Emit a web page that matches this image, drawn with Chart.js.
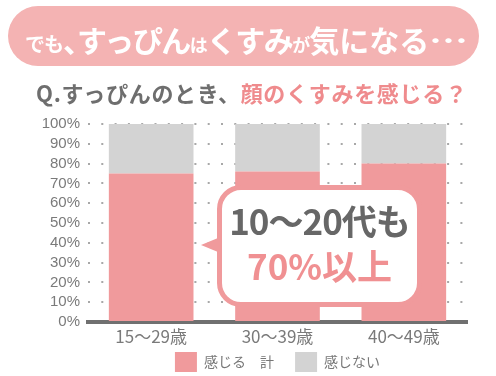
<!DOCTYPE html>
<html lang="ja">

<head>
  <meta charset="UTF-8">
  <title>すっぴんのくすみ</title>
  <script src="https://cdn.jsdelivr.net/npm/chart.js"></script>
  <style>
    body { margin: 0; background: #fff; font-family: "Noto Sans CJK JP", sans-serif; }
    #wrap { position: relative; width: 496px; height: 376px; overflow: hidden; }
    #chart { position: absolute; left: 0; top: 0; }
    .banner {
      position: absolute; left: 8px; top: 6px; width: 471px; height: 60px;
      background: #f4b3b3; border-radius: 30px; color: #fff; font-weight: bold;
      white-space: nowrap; line-height: 66px; padding-left: 17px; box-sizing: border-box;
    }
    .banner .m { font-size: 30px; letter-spacing: -1.5px; }
    .banner .w { font-size: 30px; letter-spacing: 0; }
    .banner .c { font-size: 30px; letter-spacing: -16px; }
    .banner .s { font-size: 18px; letter-spacing: -1px; }
    .banner .d { font-size: 20px; letter-spacing: -1px; }
    .banner .e { font-size: 30px; display: inline-block; transform: scaleX(1.3); transform-origin: left; }
    .question {
      position: absolute; left: 36px; top: 76px; font-size: 22px; font-weight: bold;
      color: #6e6e6e; white-space: nowrap; line-height: 32px; letter-spacing: 0.7px;
    }
    .question .pk { color: #ef8b8d; }
    .bubble {
      position: absolute; left: 217px; top: 185px; width: 205px; height: 122px;
      box-sizing: border-box; border: 5px solid #f09a9c; border-radius: 24px; background: #fff;
      text-align: center; font-weight: bold;
    }
    .bubble::before {
      content: ""; position: absolute; left: -21px; top: 48px;
      border-style: solid; border-width: 7px 17px 7px 0;
      border-color: transparent #f09a9c transparent transparent;
    }
    .bubble .l1 { position: absolute; left: 0; right: 0; top: 9px; font-size: 35px; color: #676767; line-height: 42px; letter-spacing: -1px; }
    .bubble .l2 { position: absolute; left: 0; right: 0; top: 54px; font-size: 35px; color: #f09092; line-height: 42px; }
  </style>
</head>

<body>
  <div id="wrap">
    <canvas id="chart" width="496" height="376"></canvas>
    <div class="banner"><span class="d">でも</span><span class="c">、</span><span class="m">すっぴん</span><span class="s">は</span><span class="m">くすみ</span><span class="s">が</span><span class="w">気になる</span><span class="e">…</span></div>
    <div class="question">Q.すっぴんのとき、<span class="pk">顔のくすみを感じる？</span></div>
    <div class="bubble">
      <div class="l1">10〜20代も</div>
      <div class="l2">70%以上</div>
    </div>
  </div>

  <script>
    // data
    const ageGroups = ['15〜29歳', '30〜39歳', '40〜49歳'];
    const feelTotal = [75, 76, 80];
    const notFeel = [25, 24, 20];
    const seriesNames = ['感じる　計', '感じない'];
    const yTicks = [0, 10, 20, 30, 40, 50, 60, 70, 80, 90, 100];

    const ctx = document.getElementById('chart').getContext('2d');
    const chart = new Chart(ctx, {
      type: 'bar',
      data: {
        labels: ageGroups,
        datasets: [
          { label: seriesNames[0], data: feelTotal, backgroundColor: '#f09a9c' },
          { label: seriesNames[1], data: notFeel, backgroundColor: '#d3d3d3' }
        ]
      },
      options: {
        responsive: false,
        animation: false,
        devicePixelRatio: 1,
        layout: { autoPadding: false, padding: { top: 124, right: 29, left: 0, bottom: 0 } },
        datasets: { bar: { barPercentage: 0.67, categoryPercentage: 1 } },
        plugins: {
          tooltip: { enabled: false },
          legend: {
            position: 'bottom',
            fullSize: false,
            maxHeight: 28,
            labels: {
              boxWidth: 22, boxHeight: 20, padding: 4, color: '#777',
              font: { family: '"Noto Sans CJK JP", sans-serif', size: 14 },
              // extra room after the first entry, like the original
              generateLabels: ch => Chart.defaults.plugins.legend.labels.generateLabels(ch)
                .map((it, i) => i === 0 ? { ...it, text: it.text + '　 ' } : it)
            }
          }
        },
        scales: {
          x: {
            stacked: true,
            afterFit: s => { s.height = 26; },
            grid: { display: false, drawTicks: false },
            border: { display: true, color: '#707070', width: 4 },
            ticks: { color: '#7a7a7a', padding: 4, font: { family: '"Noto Sans CJK JP", sans-serif', size: 17 } }
          },
          y: {
            stacked: true,
            min: 0, max: 100,
            afterFit: s => { s.width = 88; },
            afterBuildTicks: s => { s.ticks = yTicks.map(v => ({ value: v })); },
            border: { display: false, dash: [2, 11.3] },
            grid: {
              color: ctx => ctx.tick.value === 0 ? 'rgba(0,0,0,0)' : '#a8a8a8',
              lineWidth: 2, drawTicks: false
            },
            ticks: {
              autoSkip: false,
              color: '#7a7a7a', padding: 8,
              font: { family: '"Liberation Sans", sans-serif', size: 15 },
              callback: v => v + '%'
            }
          }
        }
      }
    });
  </script>
</body>

</html>
